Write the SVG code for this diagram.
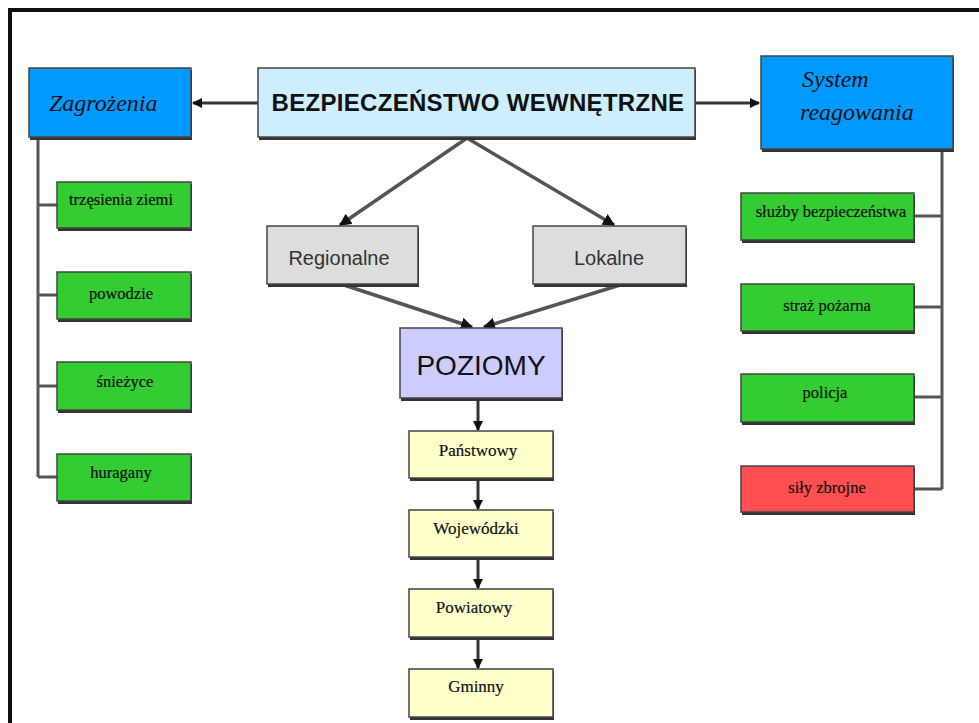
<svg xmlns="http://www.w3.org/2000/svg" width="979" height="723" viewBox="0 0 979 723">
<defs>
<marker id="ah" viewBox="0 0 10 10" refX="9" refY="5" markerWidth="3.5" markerHeight="3.5" orient="auto" markerUnits="strokeWidth">
<path d="M0,0 L10,5 L0,10 z" fill="#111"/>
</marker>
<style>
.sh{fill:#333}
.bx{stroke:#444;stroke-width:1.5}
.blue{fill:#0099ff}
.cyan{fill:#cdeeff}
.green{fill:#33cc33}
.red{fill:#ff4f4f}
.gray{fill:#dddddd}
.lav{fill:#ccccff}
.yel{fill:#ffffcc}
.ser{font-family:"Liberation Serif","Times New Roman",serif;fill:#111;text-anchor:middle;stroke:#111;stroke-width:0.2}
.it{font-family:"Liberation Serif","Times New Roman",serif;font-style:italic;fill:#111;font-size:24px}
.sans{font-family:"Liberation Sans",Arial,sans-serif;text-anchor:middle}
.ln{stroke:#555;stroke-width:3;fill:none}
.ar{stroke:#333;stroke-width:3;fill:none;marker-end:url(#ah)}
.ar2{stroke:#555;stroke-width:3.5;fill:none;marker-end:url(#ah)}
</style>
</defs>
<rect width="979" height="723" fill="#fff"/>
<path d="M10,723 V10 H979" fill="none" stroke="#111" stroke-width="4"/>

<g id="connectors">
<path class="ln" d="M38,137 V477 M38,205 H57 M38,295 H57 M38,386 H57 M38,477 H57"/>
<path class="ln" d="M942,149 V489 M914,216 H942 M914,307 H942 M914,397 H942 M914,489 H942"/>
<line class="ar" x1="258" y1="103" x2="193" y2="103"/>
<line class="ar" x1="695" y1="103" x2="759" y2="103"/>
<line class="ar2" x1="467" y1="138" x2="340" y2="225"/>
<line class="ar2" x1="467" y1="138" x2="614" y2="225"/>
<line class="ar2" x1="344" y1="285" x2="472" y2="327"/>
<line class="ar2" x1="620" y1="285" x2="484" y2="327"/>
<line class="ar" x1="478" y1="399" x2="478" y2="430"/>
<line class="ar" x1="478" y1="479" x2="478" y2="509"/>
<line class="ar" x1="478" y1="558" x2="478" y2="588"/>
<line class="ar" x1="478" y1="638" x2="478" y2="668"/>
</g>

<g id="zagrozenia">
<rect class="sh" x="30" y="70" width="162" height="70"/>
<rect class="bx blue" x="29" y="68" width="162" height="69"/>
<text class="it" x="49" y="111">Zagrożenia</text>
</g>
<g id="bezpieczenstwo">
<rect class="sh" x="259" y="70" width="437" height="70"/>
<rect class="bx cyan" x="258" y="68" width="437" height="69"/>
<text class="sans" x="478" y="111" font-size="24" font-weight="bold" fill="#111" letter-spacing="0.3">BEZPIECZEŃSTWO  WEWNĘTRZNE</text>
</g>
<g id="system">
<rect class="sh" x="762" y="58" width="192" height="94"/>
<rect class="bx blue" x="761" y="56" width="192" height="93"/>
<text class="it" x="802" y="87">System</text>
<text class="it" x="800" y="120">reagowania</text>
</g>

<g id="trzesienia">
<rect class="sh" x="58" y="184" width="134" height="47"/>
<rect class="bx green" x="57" y="182" width="134" height="46"/>
<text class="ser" x="121" y="205" font-size="16.5">trzęsienia ziemi</text>
</g>
<g id="powodzie">
<rect class="sh" x="58" y="274" width="134" height="48"/>
<rect class="bx green" x="57" y="272" width="134" height="47"/>
<text class="ser" x="121" y="299" font-size="16.5">powodzie</text>
</g>
<g id="sniezyce">
<rect class="sh" x="58" y="364" width="134" height="49"/>
<rect class="bx green" x="57" y="362" width="134" height="48"/>
<text class="ser" x="125" y="387" font-size="16.5">śnieżyce</text>
</g>
<g id="huragany">
<rect class="sh" x="58" y="456" width="134" height="48"/>
<rect class="bx green" x="57" y="454" width="134" height="47"/>
<text class="ser" x="121" y="478" font-size="16.5">huragany</text>
</g>

<g id="sluzby">
<rect class="sh" x="742" y="195" width="173" height="48"/>
<rect class="bx green" x="741" y="193" width="173" height="47"/>
<text class="ser" x="831" y="217" font-size="16.5">służby bezpieczeństwa</text>
</g>
<g id="straz">
<rect class="sh" x="742" y="286" width="173" height="48"/>
<rect class="bx green" x="741" y="284" width="173" height="47"/>
<text class="ser" x="827" y="311" font-size="16.5">straż pożarna</text>
</g>
<g id="policja">
<rect class="sh" x="742" y="376" width="173" height="49"/>
<rect class="bx green" x="741" y="374" width="173" height="48"/>
<text class="ser" x="825" y="398" font-size="16.5">policja</text>
</g>
<g id="sily">
<rect class="sh" x="742" y="468" width="173" height="47"/>
<rect class="bx red" x="741" y="466" width="173" height="46"/>
<text class="ser" x="827" y="493" font-size="16.5">siły zbrojne</text>
</g>

<g id="regionalne">
<rect class="sh" x="268" y="228" width="151" height="59"/>
<rect class="bx gray" x="267" y="226" width="151" height="58"/>
<text class="sans" x="339" y="265" font-size="20" fill="#333">Regionalne</text>
</g>
<g id="lokalne">
<rect class="sh" x="534" y="228" width="153" height="59"/>
<rect class="bx gray" x="533" y="226" width="153" height="58"/>
<text class="sans" x="609" y="265" font-size="20" fill="#333">Lokalne</text>
</g>
<g id="poziomy">
<rect class="sh" x="401" y="330" width="162" height="71"/>
<rect class="bx lav" x="400" y="328" width="162" height="70"/>
<text class="sans" x="481" y="375" font-size="28" fill="#111">POZIOMY</text>
</g>

<g id="panstwowy">
<rect class="sh" x="410" y="433" width="144" height="48"/>
<rect class="bx yel" x="409" y="431" width="144" height="47"/>
<text class="ser" x="478" y="456" font-size="17">Państwowy</text>
</g>
<g id="wojewodzki">
<rect class="sh" x="410" y="512" width="144" height="48"/>
<rect class="bx yel" x="409" y="510" width="144" height="47"/>
<text class="ser" x="476" y="534" font-size="17">Wojewódzki</text>
</g>
<g id="powiatowy">
<rect class="sh" x="410" y="591" width="144" height="49"/>
<rect class="bx yel" x="409" y="589" width="144" height="48"/>
<text class="ser" x="474" y="613" font-size="17">Powiatowy</text>
</g>
<g id="gminny">
<rect class="sh" x="410" y="671" width="144" height="49"/>
<rect class="bx yel" x="409" y="669" width="144" height="48"/>
<text class="ser" x="476" y="692" font-size="17">Gminny</text>
</g>
</svg>
